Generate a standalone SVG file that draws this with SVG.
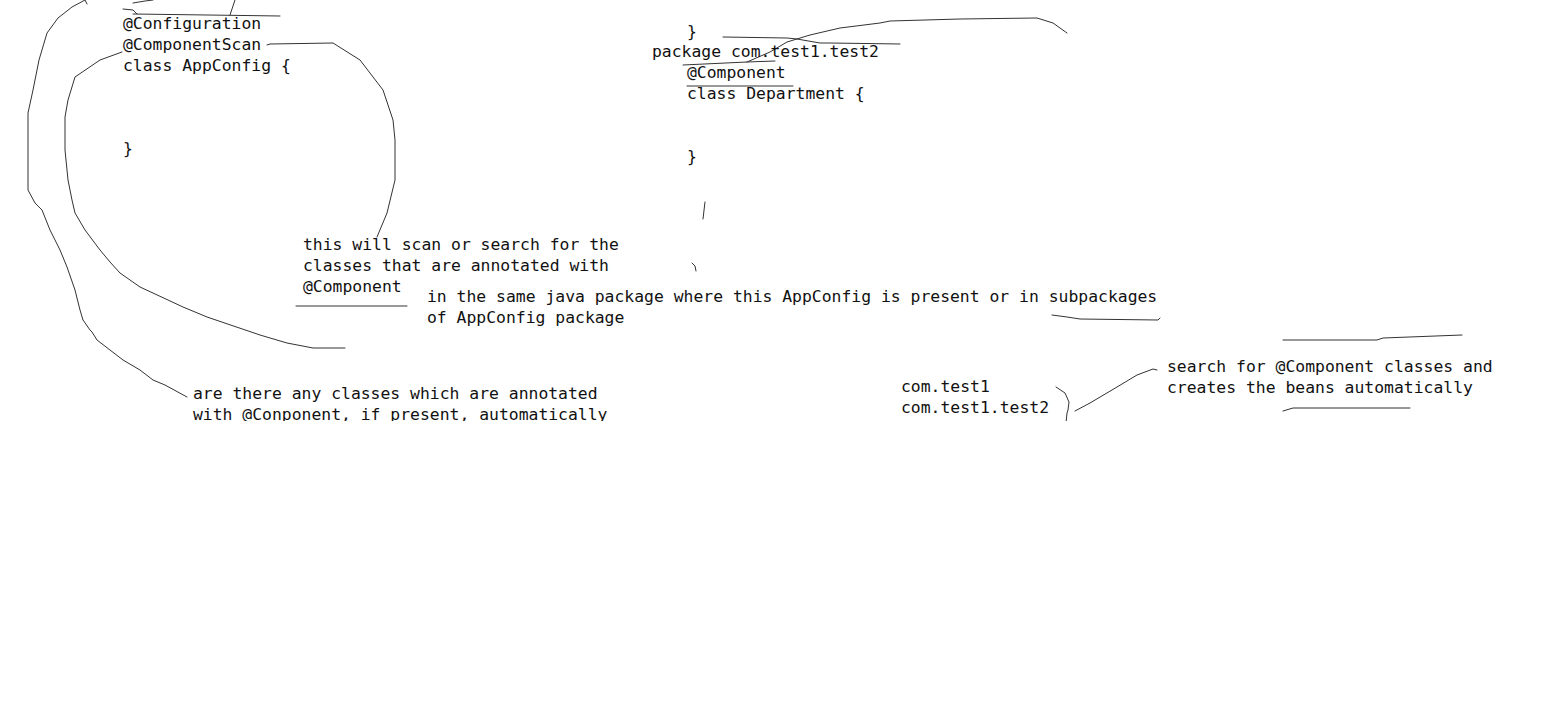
<svg xmlns="http://www.w3.org/2000/svg" width="1567" height="710" viewBox="0 0 1567 710">
<style>
text{font-family:"DejaVu Sans Mono","Liberation Mono",monospace;font-size:16.4px;fill:#111}
.s{fill:none;stroke:#333;stroke-width:1;stroke-linejoin:round;stroke-linecap:round}
</style>
<defs><clipPath id="cp"><rect x="0" y="0" width="1567" height="421"/></clipPath></defs>
<rect width="1567" height="710" fill="#fff"/>
<g clip-path="url(#cp)">
<g id="connectors">
<path class="s" d="M85,0 L72,7 L58,18 L47,33 L39,60 L33,90 L28,113 L28,140 L28,190 L35,203 L42,210 L50,230 L60,250 L67,267 L75,290 L80,310 L83,320 L90,330 L92,332 L97,340 L110,350 L123,360 L140,370 L153,380 L165,385 L187,397"/>
<path class="s" d="M122,52 L100,60 L75,77 L68,100 L65,117 L65,150 L68,180 L72,200 L75,213 L85,230 L100,250 L110,262 L120,273 L140,287 L183,307 L207,317 L260,335 L287,343 L313,348 L345,348"/>
<path class="s" d="M267,45 L270,44 L333,43 L360,60 L383,90 L393,120 L395,140 L395,180 L387,213 L377,237"/>
<path class="s" d="M123,9 L133,10 L137,14 M133,14 L280,16 M230,15 L235,0 M133,3 L145,1 L153,0 M85,0 L87,4"/>
<path class="s" d="M723,37 L787,38 L797,39 L820,43 L830,43 L900,44"/>
<path class="s" d="M683,65 L747,62 L775,61"/>
<path class="s" d="M747,62 L770,52 L787,42 L810,35 L840,28 L880,23 L890,21 L960,19 L1037,18 L1053,23 L1067,33"/>
<path class="s" d="M687,86 L793,86"/>
<path class="s" d="M705,202 L703,219 M692,263 L695,266 L696,271"/>
<path class="s" d="M296,306 L407,306"/>
<path class="s" d="M1052,315 L1067,317 L1080,319 L1158,320 L1160,318"/>
<path class="s" d="M1283,340 L1377,340 L1383,338 L1462,335"/>
<path class="s" d="M1283,411 L1293,408 L1410,408"/>
<path class="s" d="M1056,387 L1065,393 L1069,402 L1068,410 L1067,413 L1066,423"/>
<path class="s" d="M1075,411 L1090,403 L1117,387 L1137,375 L1153,369 L1157,370"/>
</g>
<g id="appconfig">
<text x="123" y="29">@Configuration</text>
<text x="123" y="50">@ComponentScan</text>
<text x="123" y="71">class AppConfig {</text>
<text x="123" y="154">}</text>
</g>
<g id="department">
<text x="687" y="37">}</text>
<text x="652" y="57">package com.test1.test2</text>
<text x="687" y="78">@Component</text>
<text x="687" y="99">class Department {</text>
<text x="687" y="162">}</text>
</g>
<g id="note-scan">
<text x="303" y="250">this will scan or search for the</text>
<text x="303" y="271">classes that are annotated with</text>
<text x="303" y="292">@Component</text>
</g>
<g id="note-package">
<text x="427" y="302">in the same java package where this AppConfig is present or in subpackages</text>
<text x="427" y="323">of AppConfig package</text>
</g>
<g id="packages">
<text x="901" y="392">com.test1</text>
<text x="901" y="413">com.test1.test2</text>
</g>
<g id="note-search">
<text x="1167" y="372">search for @Component classes and</text>
<text x="1167" y="393">creates the beans automatically</text>
</g>
<g id="note-classes">
<text x="193" y="399">are there any classes which are annotated</text>
<text x="193" y="420">with @Conponent, if present, automatically</text>
</g>
</g>
</svg>
